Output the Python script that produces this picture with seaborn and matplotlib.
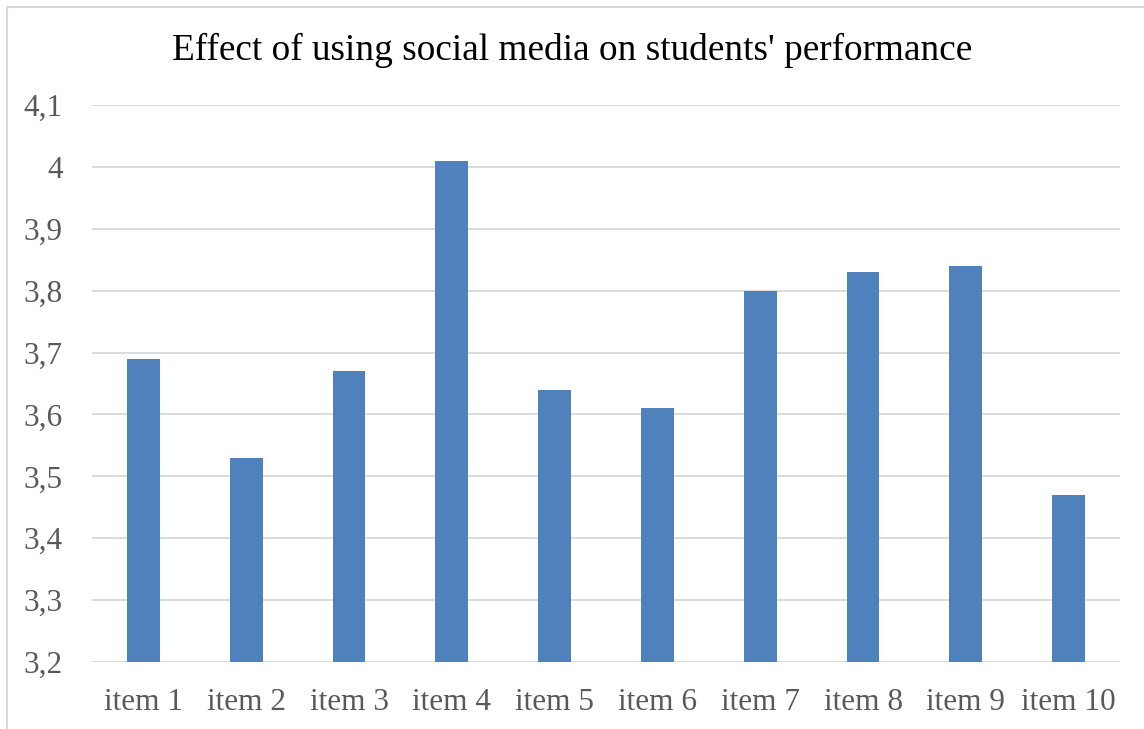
import matplotlib
matplotlib.use('Agg')
import matplotlib.pyplot as plt
import seaborn as sns
import pandas as pd
from matplotlib.patches import Rectangle

# data
items = ['item 1', 'item 2', 'item 3', 'item 4', 'item 5',
         'item 6', 'item 7', 'item 8', 'item 9', 'item 10']
scores = [3.69, 3.53, 3.67, 4.01, 3.64, 3.61, 3.80, 3.83, 3.84, 3.47]
yticks = [3.2, 3.3, 3.4, 3.5, 3.6, 3.7, 3.8, 3.9, 4.0, 4.1]
ytick_labels = ['3,2', '3,3', '3,4', '3,5', '3,6', '3,7', '3,8', '3,9', '4', '4,1']
title = "Effect of using social media on students' performance"

BAR = '#4f81bd'
GRID = '#d9d9d9'
TICK = '#595959'

sns.set_theme(style='white')
plt.rcParams['font.family'] = ['Liberation Serif', 'DejaVu Serif']

df = pd.DataFrame({'item': items, 'score': scores})

fig = plt.figure(figsize=(11.44, 7.29), dpi=100, facecolor='white')
ax = fig.add_axes([92 / 1144, 1 - 662 / 729, (1120 - 92) / 1144, (662 - 105) / 729])

sns.barplot(data=df, x='item', y='score', color=BAR, width=0.32,
            saturation=1, linewidth=0, ax=ax, zorder=3)

ax.set_ylim(3.2, 4.1)
ax.set_xlim(-0.5, len(items) - 0.5)
ax.set_yticks(yticks)
ax.set_yticklabels(ytick_labels)
ax.grid(True, axis='y', color=GRID, linewidth=1.3, zorder=0)
ax.grid(False, axis='x')
for s in ax.spines.values():
    s.set_visible(False)
ax.tick_params(axis='both', length=0, labelsize=22.5, colors=TICK)
ax.tick_params(axis='y', pad=21)
ax.tick_params(axis='x', pad=19)
ax.set_xlabel('')
ax.set_ylabel('')

fig.text(0.5, 1 - 50 / 729, title, ha='center', va='center',
         fontsize=26.8, color='black')

# chart-area border (cropped on the right and bottom)
fig.patches.append(Rectangle((7 / 1144, -0.01), 1.05, 1 - 7 / 729 + 0.01,
                             transform=fig.transFigure, fill=False,
                             edgecolor='#d9d9d9', linewidth=1.5))

fig.savefig('out.png', dpi=100, facecolor='white')
